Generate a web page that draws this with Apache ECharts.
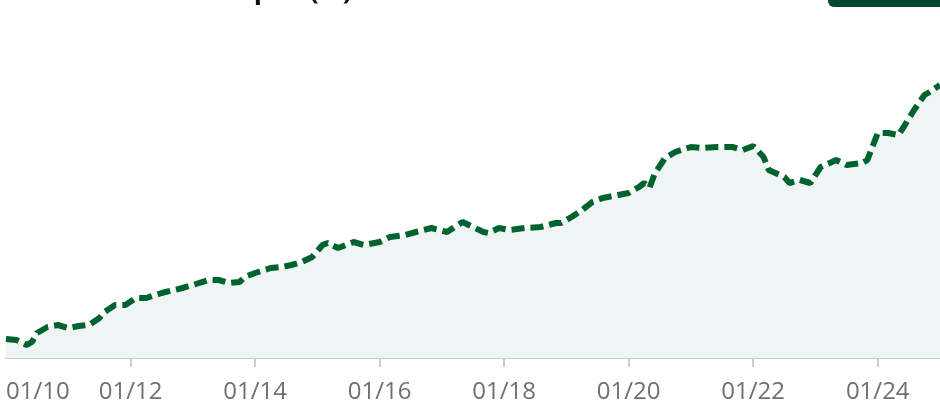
<!DOCTYPE html>
<html>
<head>
<meta charset="utf-8">
<script src="https://cdn.jsdelivr.net/npm/echarts@6/dist/echarts.min.js"></script>
<style>
html,body{margin:0;padding:0;background:#fff;}
#chart{width:940px;height:400px;}
</style>
</head>
<body>
<div id="chart"></div>
<script>
const dates = ['2010-01','2010-03','2010-05','2010-06','2010-07','2010-09','2010-11','2011-01','2011-03','2011-05',
'2011-07','2011-08','2011-10','2011-12','2012-02','2012-04','2012-07','2012-11','2013-01','2013-04',
'2013-06','2013-08','2013-10','2013-11','2014-01','2014-04','2014-06','2014-08','2014-10','2014-12',
'2015-02','2015-03','2015-05','2015-08','2015-10','2016-01','2016-03','2016-06','2016-08','2016-11',
'2017-02','2017-04','2017-05','2017-07','2017-09','2017-10','2017-12','2018-02','2018-05','2018-08',
'2018-11','2018-12','2019-02','2019-04','2019-06','2019-08','2019-11','2020-01','2020-03','2020-04',
'2020-05','2020-06','2020-08','2020-10','2021-01','2021-03','2021-06','2021-09','2021-11','2022-01',
'2022-03','2022-04','2022-07','2022-08','2022-10','2022-12','2023-02','2023-05','2023-07','2023-10',
'2023-11','2024-01','2024-03','2024-05','2024-06','2024-08','2024-10','2024-11','2025-01'];
const values = [19,18,13,16,25,31,33,30,32,33,
40,46,53,53,60,60,65,70,73,78,
78,75,76,81,85,90,91,93,96,101,
113,115,110,116,113,116,121,123,126,130,
126,133,136,131,126,125,130,128,130,131,
135,135,141,148,156,160,163,165,171,175,
170,184,200,206,211,210,211,211,208,212,
201,188,181,175,178,175,191,198,193,195,
198,225,225,223,231,248,263,266,273];
const tickYears = [2012,2014,2016,2018,2020,2022,2024];
const titleText = 'Total Capex (%)';

function toYear(s){ const p = s.split('-'); return +p[0] + (+p[1]-1)/12; }
const seriesData = dates.map((d,i)=>[toYear(d), values[i]]);

const chart = echarts.init(document.getElementById('chart'), null, {renderer:'canvas'});
chart.setOption({
  animation:false,
  grid:{left:6,right:0,top:20,bottom:42,containLabel:false,outerBoundsMode:'none'},
  xAxis:{
    type:'value', min:2010, max:2025, interval:2,
    axisLine:{show:true,lineStyle:{color:'#cccccc',width:2}},
    axisTick:{show:true,length:9,lineStyle:{color:'#cccccc',width:2},customValues:tickYears},
    splitLine:{show:false},
    axisLabel:{
      color:'#707070', fontSize:24, fontFamily:'Open Sans', fontWeight:400, margin:22,
      showMaxLabel:false, alignMinLabel:'left',
      formatter:v=>'01/'+String(Math.round(v)).slice(2)
    }
  },
  yAxis:{type:'value',min:0,max:338,show:false,splitLine:{show:false}},
  series:[{
    type:'line', data:seriesData, showSymbol:false, smooth:false,
    lineStyle:{color:'#00632f',width:6,type:[13,6]},
    areaStyle:{color:'#eef5f4',opacity:1}
  }],
  graphic:[
    {type:'text',x:352,y:5,style:{text:titleText,fill:'#111',font:'bold 27px "Open Sans"',align:'right',verticalAlign:'bottom'}},
    {type:'rect',x:828,y:-30,shape:{width:130,height:37,r:6},style:{fill:'#014a30'}}
  ]
});
</script>
</body>
</html>
